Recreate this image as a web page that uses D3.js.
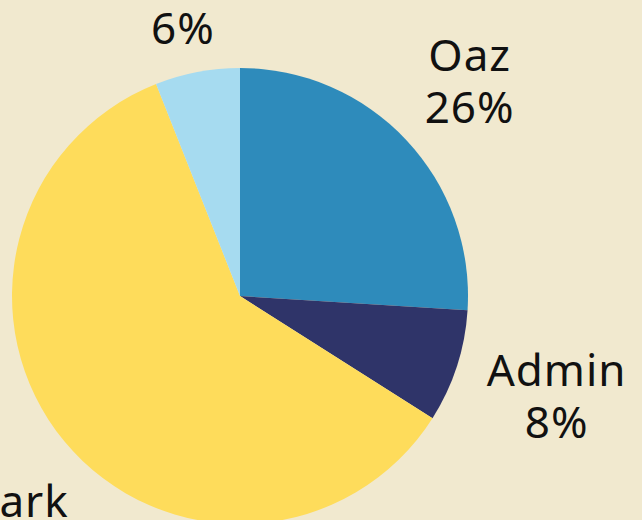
<!DOCTYPE html>
<html>
<head>
<meta charset="utf-8">
<script src="https://cdn.jsdelivr.net/npm/d3@7"></script>
<style>
  html, body { margin: 0; padding: 0; background: #f1e9cf; }
  svg { display: block; }
  .label { font-family: "Noto Sans", sans-serif; font-size: 44px; fill: #111; letter-spacing: 1px; }
</style>
</head>
<body>
<div id="wrapper"></div>
<script>
// data
const categories = ["Oaz", "Admin", "Park", "Other"];
const shares = [26, 8, 60, 6];
const colors = ["#2e8bbb", "#2f3469", "#fedc5b", "#a6dbf0"];

const dimensions = {
  width: 642,
  height: 520,
  cx: 240,
  cy: 296,
  radius: 228,
  labelRadius: 315,
};

// hand-tuned label nudges so they sit where the original put them
const labelNudge = [[0, 1], [17, 3], [23, 30], [2, 15]];

const svg = d3.select("#wrapper")
  .append("svg")
    .attr("width", dimensions.width)
    .attr("height", dimensions.height);

const bounds = svg.append("g")
    .attr("transform", `translate(${dimensions.cx}, ${dimensions.cy})`);

const pie = d3.pie().sort(null).value(d => d);
const arcs = pie(shares);

const arc = d3.arc().innerRadius(0).outerRadius(dimensions.radius);
const labelArc = d3.arc().innerRadius(dimensions.labelRadius).outerRadius(dimensions.labelRadius);

bounds.selectAll(".slice")
  .data(arcs)
  .join("path")
    .attr("class", "slice")
    .attr("d", arc)
    .attr("fill", (d, i) => colors[i]);

// two line labels: name above, percent below
const labels = bounds.selectAll(".label")
  .data(arcs)
  .join("text")
    .attr("class", "label")
    .attr("text-anchor", "middle")
    .attr("transform", (d, i) => {
      const [x, y] = labelArc.centroid(d);
      return `translate(${x + labelNudge[i][0]}, ${y + labelNudge[i][1]})`;
    });

labels.append("tspan")
    .attr("x", 0)
    .attr("y", -10)
    .text((d, i) => categories[i]);
labels.append("tspan")
    .attr("x", 0)
    .attr("y", 42)
    .text(d => d.data + "%");
</script>
</body>
</html>
